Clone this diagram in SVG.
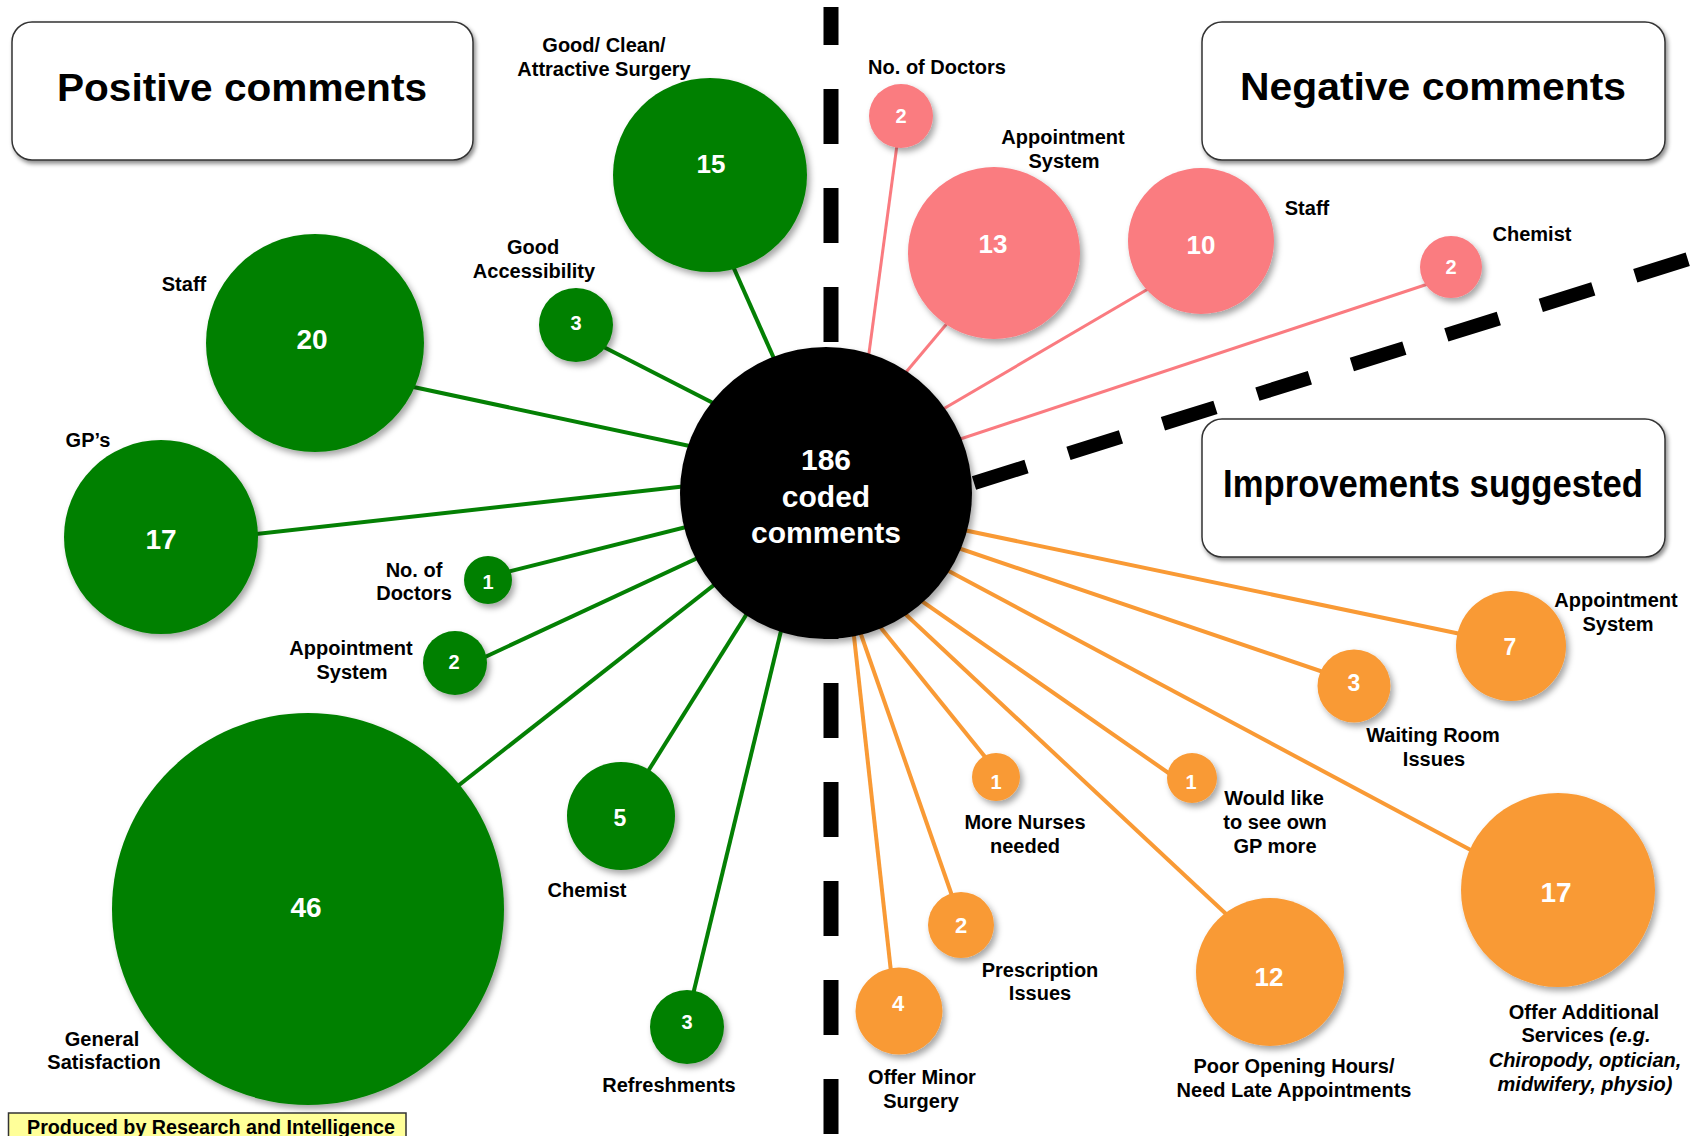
<svg xmlns="http://www.w3.org/2000/svg" width="1698" height="1136" viewBox="0 0 1698 1136">
<defs>
<filter id="sh" x="-20%" y="-20%" width="150%" height="150%">
<feDropShadow dx="3" dy="4" stdDeviation="3" flood-color="#000" flood-opacity="0.35"/>
</filter>
<filter id="bsh" x="-10%" y="-10%" width="120%" height="130%">
<feDropShadow dx="2" dy="3" stdDeviation="2" flood-color="#000" flood-opacity="0.45"/>
</filter>
</defs>
<style>
text{font-family:"Liberation Sans",Arial,sans-serif;font-weight:bold}
.lbl{font-size:20px;fill:#000;text-anchor:middle}
.num{fill:#fff;text-anchor:middle}
.n20{font-size:20px}.n23{font-size:23px}.n26{font-size:26px}.n28{font-size:28px}
.g{fill:#048004;filter:url(#sh)}
.p{fill:#fa7b80;filter:url(#sh)}
.o{fill:#f99a35;filter:url(#sh)}
.lg{stroke:#048004;stroke-width:4;fill:none}
.lp{stroke:#fa7b80;stroke-width:3;fill:none}
.lo{stroke:#f99a35;stroke-width:4;fill:none}
.box{fill:#fff;stroke:#333;stroke-width:1.5;filter:url(#bsh)}
.title{font-size:38px;fill:#000;text-anchor:middle}
.dash{stroke:#000;fill:none;stroke-dasharray:55 44}
.it{font-style:italic}
</style>
<rect width="1698" height="1136" fill="#fff"/>

<g id="dividers">
<line class="dash" x1="831" y1="7" x2="831" y2="1150" stroke-width="15" stroke-dashoffset="17"/>
<line class="dash" x1="974" y1="483" x2="1730" y2="246" stroke-width="14"/>
</g>

<g id="connectors">
<line class="lg" x1="720" y1="237" x2="800" y2="417"/>
<line class="lg" x1="590" y1="340" x2="760" y2="427"/>
<line class="lg" x1="390" y1="382" x2="760" y2="461"/>
<line class="lg" x1="230" y1="537" x2="750" y2="479"/>
<line class="lg" x1="495" y1="575" x2="750" y2="511"/>
<line class="lg" x1="470" y1="664" x2="760" y2="529"/>
<line class="lg" x1="440" y1="800" x2="770" y2="541"/>
<line class="lg" x1="640" y1="784" x2="775" y2="569"/>
<line class="lg" x1="690" y1="1007" x2="795" y2="573"/>
<line class="lp" x1="899" y1="130" x2="860" y2="420"/>
<line class="lp" x1="960" y1="308" x2="870" y2="415"/>
<line class="lp" x1="1160" y1="282" x2="880" y2="446"/>
<line class="lp" x1="1440" y1="280" x2="900" y2="459"/>
<line class="lo" x1="1475" y1="637" x2="930" y2="523"/>
<line class="lo" x1="1335" y1="676" x2="920" y2="535"/>
<line class="lo" x1="1480" y1="855" x2="900" y2="545"/>
<line class="lo" x1="1180" y1="781" x2="880" y2="572"/>
<line class="lo" x1="1240" y1="927" x2="870" y2="581"/>
<line class="lo" x1="990" y1="763" x2="860" y2="602"/>
<line class="lo" x1="957" y1="910" x2="849" y2="600"/>
<line class="lo" x1="893" y1="990" x2="850" y2="600"/>
</g>

<g id="center">
<circle cx="826" cy="493" r="146" fill="#000" filter="url(#sh)"/>
<text class="num" x="826" y="470" style="font-size:30px">186</text>
<text class="num" x="826" y="507" style="font-size:30px">coded</text>
<text class="num" x="826" y="543" style="font-size:30px">comments</text>
</g>

<g id="box-positive">
<rect class="box" x="12" y="22" width="461" height="138" rx="20"/>
<text class="title" x="242" y="101" textLength="370" lengthAdjust="spacingAndGlyphs">Positive comments</text>
</g>
<g id="box-negative">
<rect class="box" x="1202" y="22" width="463" height="138" rx="20"/>
<text class="title" x="1433" y="100" textLength="386" lengthAdjust="spacingAndGlyphs">Negative comments</text>
</g>
<g id="box-improvements">
<rect class="box" x="1202" y="419" width="463" height="138" rx="20"/>
<text class="title" x="1433" y="497" textLength="420" lengthAdjust="spacingAndGlyphs">Improvements suggested</text>
</g>

<g id="pos-surgery">
<circle class="g" cx="710" cy="175" r="97"/>
<text class="num n26" x="711" y="173">15</text>
<text class="lbl" x="604" y="52">Good/ Clean/</text>
<text class="lbl" x="604" y="76">Attractive Surgery</text>
</g>
<g id="pos-accessibility">
<circle class="g" cx="576" cy="325" r="37"/>
<text class="num n20" x="576" y="330">3</text>
<text class="lbl" x="533" y="254">Good</text>
<text class="lbl" x="534" y="278">Accessibility</text>
</g>
<g id="pos-staff">
<circle class="g" cx="315" cy="343" r="109"/>
<text class="num n28" x="312" y="349">20</text>
<text class="lbl" x="184" y="291">Staff</text>
</g>
<g id="pos-gps">
<circle class="g" cx="161" cy="537" r="97"/>
<text class="num n28" x="161" y="549">17</text>
<text class="lbl" x="88" y="447">GP’s</text>
</g>
<g id="pos-doctors">
<circle class="g" cx="488" cy="580" r="24"/>
<text class="num n20" x="488" y="589">1</text>
<text class="lbl" x="414" y="577">No. of</text>
<text class="lbl" x="414" y="600">Doctors</text>
</g>
<g id="pos-appointment">
<circle class="g" cx="455" cy="663" r="32"/>
<text class="num n20" x="454" y="669">2</text>
<text class="lbl" x="351" y="655">Appointment</text>
<text class="lbl" x="352" y="679">System</text>
</g>
<g id="pos-general">
<circle class="g" cx="308" cy="909" r="196"/>
<text class="num n28" x="306" y="917">46</text>
<text class="lbl" x="102" y="1046">General</text>
<text class="lbl" x="104" y="1069">Satisfaction</text>
</g>
<g id="pos-chemist">
<circle class="g" cx="621" cy="816" r="54"/>
<text class="num n23" x="620" y="826">5</text>
<text class="lbl" x="587" y="897">Chemist</text>
</g>
<g id="pos-refreshments">
<circle class="g" cx="687" cy="1027" r="37"/>
<text class="num n20" x="687" y="1029">3</text>
<text class="lbl" x="669" y="1092">Refreshments</text>
</g>

<g id="neg-doctors">
<circle class="p" cx="901" cy="116" r="32"/>
<text class="num n20" x="901" y="123">2</text>
<text class="lbl" x="937" y="74">No. of Doctors</text>
</g>
<g id="neg-appointment">
<circle class="p" cx="994" cy="253" r="86"/>
<text class="num n26" x="993" y="253">13</text>
<text class="lbl" x="1063" y="144">Appointment</text>
<text class="lbl" x="1064" y="168">System</text>
</g>
<g id="neg-staff">
<circle class="p" cx="1201" cy="241" r="73"/>
<text class="num n26" x="1201" y="254">10</text>
<text class="lbl" x="1307" y="215">Staff</text>
</g>
<g id="neg-chemist">
<circle class="p" cx="1451" cy="267" r="31"/>
<text class="num n20" x="1451" y="274">2</text>
<text class="lbl" x="1532" y="241">Chemist</text>
</g>

<g id="imp-appointment">
<circle class="o" cx="1511" cy="646" r="55"/>
<text class="num n23" x="1510" y="655">7</text>
<text class="lbl" x="1616" y="607">Appointment</text>
<text class="lbl" x="1618" y="631">System</text>
</g>
<g id="imp-waiting">
<circle class="o" cx="1354" cy="686" r="36.5"/>
<text class="num n23" x="1354" y="691">3</text>
<text class="lbl" x="1433" y="742">Waiting Room</text>
<text class="lbl" x="1434" y="766">Issues</text>
</g>
<g id="imp-nurses">
<circle class="o" cx="996" cy="777" r="24"/>
<text class="num n20" x="996" y="789">1</text>
<text class="lbl" x="1025" y="829">More Nurses</text>
<text class="lbl" x="1025" y="853">needed</text>
</g>
<g id="imp-owngp">
<circle class="o" cx="1192" cy="778" r="25"/>
<text class="num n20" x="1191" y="789">1</text>
<text class="lbl" x="1274" y="805">Would like</text>
<text class="lbl" x="1275" y="829">to see own</text>
<text class="lbl" x="1275" y="853">GP more</text>
</g>
<g id="imp-additional">
<circle class="o" cx="1558" cy="890" r="97"/>
<text class="num n28" x="1556" y="902">17</text>
<text class="lbl" x="1584" y="1019">Offer Additional</text>
<text class="lbl" x="1586" y="1042">Services <tspan class="it">(e.g.</tspan></text>
<text class="lbl it" x="1585" y="1067">Chiropody, optician,</text>
<text class="lbl it" x="1585" y="1091">midwifery, physio)</text>
</g>
<g id="imp-hours">
<circle class="o" cx="1270" cy="972" r="74"/>
<text class="num n26" x="1269" y="986">12</text>
<text class="lbl" x="1294" y="1073">Poor Opening Hours/</text>
<text class="lbl" x="1294" y="1097">Need Late Appointments</text>
</g>
<g id="imp-prescription">
<circle class="o" cx="961" cy="925" r="33"/>
<text class="num" x="961" y="933" style="font-size:22px">2</text>
<text class="lbl" x="1040" y="977">Prescription</text>
<text class="lbl" x="1040" y="1000">Issues</text>
</g>
<g id="imp-surgery">
<circle class="o" cx="899" cy="1011" r="43.5"/>
<text class="num" x="898" y="1011" style="font-size:22px">4</text>
<text class="lbl" x="922" y="1084">Offer Minor</text>
<text class="lbl" x="921" y="1108">Surgery</text>
</g>

<g id="footer">
<rect x="8.5" y="1113" width="397.5" height="40" fill="#ffff99" stroke="#333" stroke-width="1.5"/>
<text x="27" y="1134" style="font-size:20px;fill:#000" textLength="368" lengthAdjust="spacingAndGlyphs">Produced by Research and Intelligence</text>
</g>
</svg>
